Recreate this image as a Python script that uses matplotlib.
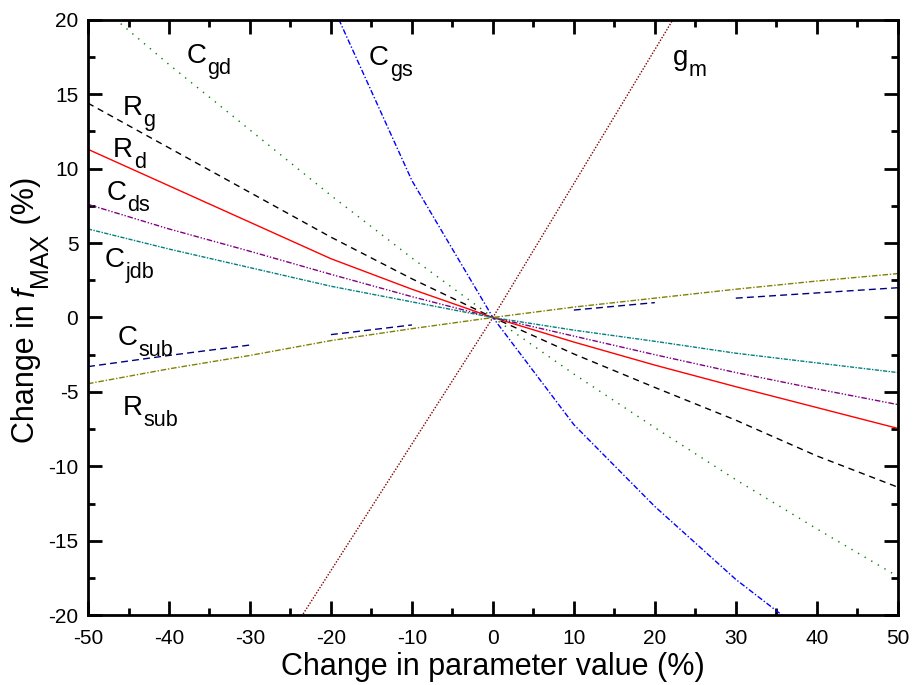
import matplotlib
matplotlib.use('Agg')
import matplotlib.pyplot as plt
from matplotlib.ticker import MultipleLocator
import numpy as np

plt.rcParams['font.family'] = ['Liberation Sans', 'DejaVu Sans']
plt.rcParams['axes.unicode_minus'] = False

# Parameter change (%) at which each sensitivity was evaluated
param_change = [-50, -40, -30, -20, -10, 0, 10, 20, 30, 40, 50]

# Change in fMAX (%) for each parameter
f_cgd = [21.6, 17.0, 12.6, 8.2, 4.0, 0, -3.8, -7.4, -10.9, -14.2, -17.4]
f_cgs = [66.0, 50.0, 35.0, 21.2, 9.2, 0, -7.2, -12.7, -17.6, -21.8, -25.5]
f_gm = [-42.5, -34.0, -25.5, -17.0, -8.5, 0, 9.0, 18.0, 27.0, 36.0, 45.0]
f_rg = [14.4, 11.4, 8.4, 5.4, 2.6, 0, -2.45, -4.7, -6.9, -9.3, -11.4]
f_rd = [11.3, 8.85, 6.4, 3.95, 1.9, 0, -1.65, -3.2, -4.65, -6.05, -7.45]
f_cds = [7.6, 5.95, 4.45, 2.9, 1.4, 0, -1.25, -2.5, -3.7, -4.8, -5.85]
f_cjdb = [5.95, 4.6, 3.35, 2.1, 1.05, 0, -0.85, -1.6, -2.4, -3.05, -3.7]
f_rsub = [-4.45, -3.45, -2.55, -1.55, -0.75, 0, 0.7, 1.3, 1.9, 2.45, 2.95]

# C_sub was only plotted in pieces
csub_segments = [
    ([-50, -40, -30], [-3.3, -2.55, -1.85]),
    ([-20, -10], [-1.15, -0.5]),
    ([10, 20], [0.5, 1.0]),
    ([30, 40, 50], [1.3, 1.65, 2.0]),
]

# curve labels: (symbol, subscript, x, y)
curve_labels = [
    ('C', 'gd', -37.8, 17.1),
    ('C', 'gs', -15.3, 17.0),
    ('g', 'm', 22.2, 17.0),
    ('R', 'g', -45.7, 13.6),
    ('R', 'd', -46.9, 10.8),
    ('C', 'ds', -47.7, 7.9),
    ('C', 'jdb', -47.9, 3.4),
    ('C', 'sub', -46.3, -1.85),
    ('R', 'sub', -45.7, -6.55),
]

# y-axis title pieces: (text, size, style, shift below baseline in px)
ylabel_parts = [
    ('Change in ', 22, 'normal', 0),
    ('f', 22, 'italic', 0),
    ('MAX', 18, 'normal', 13),
    (' (%)', 22, 'normal', 0),
]

fig = plt.figure(figsize=(9.17, 6.85), dpi=100)
ax = fig.add_axes([0.096, 0.102, 0.883, 0.869])

lw = 1.0
ax.plot(param_change, f_gm, color='#800000', lw=lw, ls=(0, (1, 1.2)))
ax.plot(param_change, f_cgs, color='#0000ff', lw=lw, ls=(0, (4, 1.5, 1, 1.5)))
ax.plot(param_change, f_cgd, color='#008000', lw=lw, ls=(0, (1, 4.5)))
ax.plot(param_change, f_rg, color='black', lw=lw, ls=(0, (4.5, 3.5)))
ax.plot(param_change, f_rd, color='red', lw=lw, ls='-')
ax.plot(param_change, f_cds, color='#800080', lw=lw, ls=(0, (4, 1.3, 1, 1.3, 1, 1.3)))
ax.plot(param_change, f_cjdb, color='#008080', lw=lw, ls=(0, (3, 1, 1, 1)))
ax.plot(param_change, f_rsub, color='#808000', lw=lw, ls=(0, (4, 1.3, 1, 1.3)))
for xs, ys in csub_segments:
    ax.plot(xs, ys, color='#000080', lw=lw, ls=(0, (5, 3)))

ax.set_xlim(-50, 50)
ax.set_ylim(-20, 20)

# big symbol, then a lowered subscript placed right after it
renderer = fig.canvas.get_renderer()
for sym, sub, x, y in curve_labels:
    t = ax.text(x, y, sym, fontsize=20, ha='left', va='baseline')
    bb = t.get_window_extent(renderer)
    xr, _ = ax.transData.inverted().transform((bb.x1, 0))
    ax.annotate(sub, (xr, y), xytext=(0.5, -8), textcoords='offset points',
                fontsize=15.5, ha='left', va='baseline')

ax.xaxis.set_major_locator(MultipleLocator(10))
ax.xaxis.set_minor_locator(MultipleLocator(5))
ax.yaxis.set_major_locator(MultipleLocator(5))
ax.yaxis.set_minor_locator(MultipleLocator(2.5))
ax.tick_params(which='both', direction='in', top=True, right=True, width=2,
               labelsize=15)
ax.tick_params(axis='x', pad=10)
ax.tick_params(axis='y', pad=7)
ax.tick_params(which='major', length=10)
ax.tick_params(which='minor', length=5)
for s in ax.spines.values():
    s.set_linewidth(2)

ax.set_xlabel('Change in parameter value (%)', fontsize=22, labelpad=3)

# rotated y title, built piece by piece so the subscript sits low
base_x = 34
pieces = []
for txt, size, style, drop in ylabel_parts:
    t = fig.text(0, 0, txt, fontsize=size, style=style, rotation=90,
                 rotation_mode='anchor', ha='left', va='baseline',
                 transform=None)
    pieces.append((t, drop))
heights = [t.get_window_extent(renderer).height for t, _ in pieces]
y0 = fig.bbox.height - 310 - sum(heights) / 2
for (t, drop), h in zip(pieces, heights):
    t.set_position((base_x + drop, y0))
    y0 += h

fig.savefig('out.png', dpi=100)
